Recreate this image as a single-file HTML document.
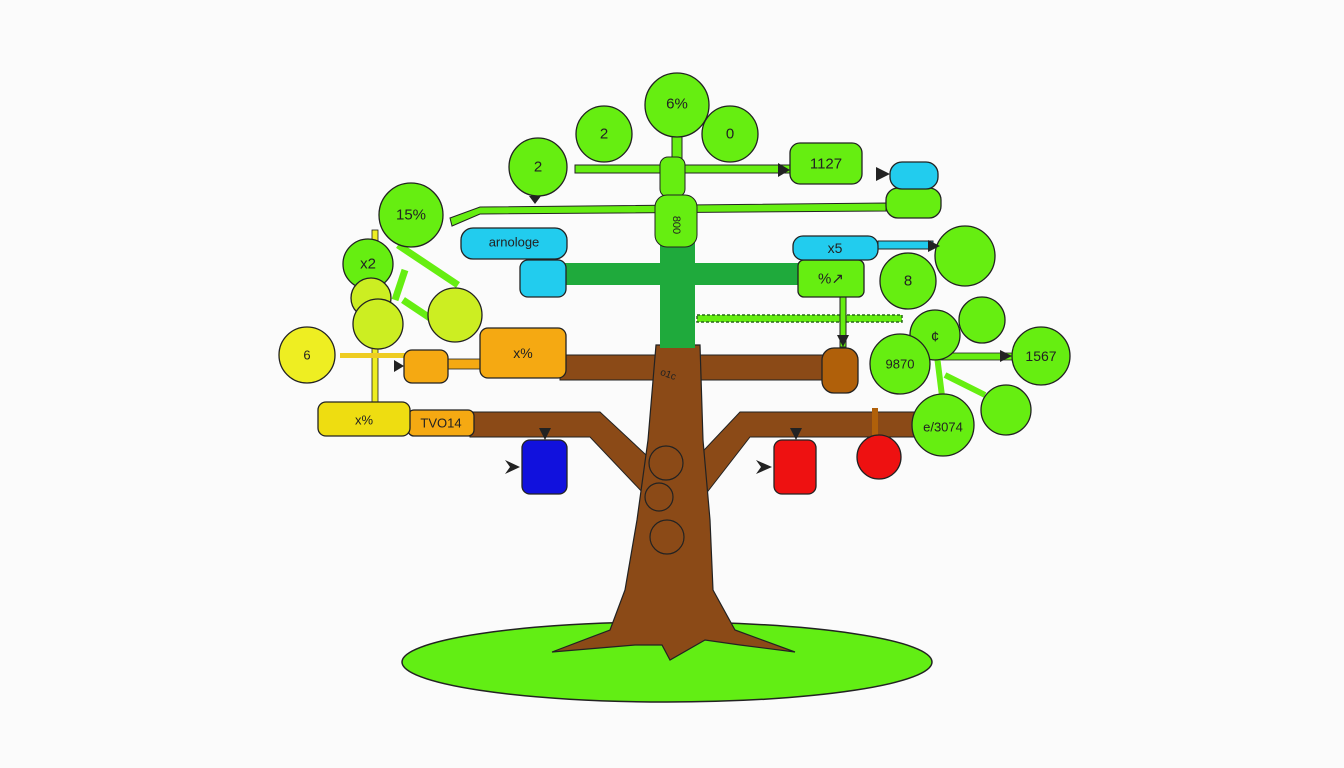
<!DOCTYPE html>
<html><head><meta charset="utf-8"><style>
html,body{margin:0;padding:0;background:#fbfbfb}
svg{display:block}
text{font-family:"Liberation Sans",sans-serif;fill:#222;text-anchor:middle;dominant-baseline:central}
</style></head><body>
<svg width="1344" height="768" viewBox="0 0 1344 768" xmlns="http://www.w3.org/2000/svg">
<rect width="1344" height="768" fill="#fbfbfb"/>
<!-- ground -->
<ellipse cx="667" cy="662" rx="265" ry="40" fill="#62ee14" stroke="#222" stroke-width="1.5"/>
<!-- lower branches -->
<path d="M470,412 L600,412 L660,468 L645,495 L590,437 L470,437 Z" fill="#8b4a17" stroke="#222" stroke-width="1"/>
<path d="M915,412 L740,412 L690,465 L705,495 L750,437 L915,437 Z" fill="#8b4a17" stroke="#222" stroke-width="1"/>
<!-- brown mid branch -->
<rect x="560" y="355" width="270" height="25" fill="#8b4a17" stroke="#222" stroke-width="1"/>
<!-- trunk -->
<path d="M656,345 L700,345 L703,440 L710,520 L713,590 L735,630 L795,652 L740,645 L705,640 L670,660 L662,645 L635,645 L552,652 L610,630 L625,590 L637,520 L648,440 Z" fill="#8b4a17" stroke="#222" stroke-width="1.2"/>
<circle cx="666" cy="463" r="17" fill="none" stroke="#222" stroke-width="1.2"/>
<circle cx="659" cy="497" r="14" fill="none" stroke="#222" stroke-width="1.2"/>
<circle cx="667" cy="537" r="17" fill="none" stroke="#222" stroke-width="1.2"/>
<text x="668" y="375" font-size="10" transform="rotate(20 668 375)">o1c</text>
<!-- green trunk & band -->
<rect x="660" y="230" width="35" height="118" fill="#1faa3c"/>
<rect x="560" y="263" width="245" height="22" fill="#1faa3c"/>
<!-- green connectors -->
<rect x="672" y="120" width="10" height="45" fill="#66ee11" stroke="#222" stroke-width="1"/>
<rect x="575" y="165" width="215" height="8" fill="#66ee11" stroke="#222" stroke-width="1"/>
<path d="M450,218 L480,207 L886,203 L886,211 L480,214 L452,226 Z" fill="#66ee11" stroke="#222" stroke-width="1"/>
<rect x="660" y="157" width="25" height="40" rx="8" fill="#66ee11" stroke="#222" stroke-width="1"/>
<rect x="655" y="195" width="42" height="52" rx="12" fill="#66ee11" stroke="#222" stroke-width="1"/>
<text x="676" y="225" font-size="11" transform="rotate(90 676 225)">800</text>
<rect x="697" y="315" width="205" height="7" fill="#66ee11" stroke="#2a6a1a" stroke-width="1.5" stroke-dasharray="3 2"/>
<rect x="840" y="295" width="6" height="52" fill="#66ee11" stroke="#222" stroke-width="1"/>
<rect x="878" y="241" width="55" height="8" fill="#22ccee" stroke="#222" stroke-width="1"/>
<path d="M398,245 L458,285 M405,270 L395,300 M403,300 L430,318" stroke="#66ee11" stroke-width="7" fill="none"/>
<rect x="372" y="230" width="6" height="180" fill="#eeee22" stroke="#222" stroke-width=".8"/>
<rect x="340" y="353" width="65" height="5" fill="#eecc22"/>
<rect x="448" y="359" width="35" height="10" fill="#f5a912" stroke="#222" stroke-width=".8"/>
<rect x="940" y="353" width="72" height="7" fill="#66ee11" stroke="#222" stroke-width=".8"/>
<path d="M935,340 L945,420 M945,375 L985,395" stroke="#66ee11" stroke-width="6" fill="none"/>
<rect x="872" y="408" width="6" height="30" fill="#b0600a"/>
<!-- nodes green circles -->
<g fill="#66ee11" stroke="#222" stroke-width="1.3">
<circle cx="677" cy="105" r="32"/><circle cx="604" cy="134" r="28"/><circle cx="730" cy="134" r="28"/>
<circle cx="538" cy="167" r="29"/><circle cx="411" cy="215" r="32"/><circle cx="368" cy="264" r="25"/>
<circle cx="965" cy="256" r="30"/><circle cx="908" cy="281" r="28"/><circle cx="982" cy="320" r="23"/>
<circle cx="935" cy="335" r="25"/><circle cx="900" cy="364" r="30"/><circle cx="1041" cy="356" r="29"/>
<circle cx="1006" cy="410" r="25"/><circle cx="943" cy="425" r="31"/>
<rect x="790" y="143" width="72" height="41" rx="10"/>
<rect x="886" y="188" width="55" height="30" rx="12"/>
<rect x="798" y="260" width="66" height="37" rx="6"/>
</g>
<g fill="#ccee22" stroke="#222" stroke-width="1.3">
<circle cx="371" cy="298" r="20"/><circle cx="378" cy="324" r="25"/><circle cx="455" cy="315" r="27"/>
</g>
<circle cx="307" cy="355" r="28" fill="#eeee22" stroke="#222" stroke-width="1.3"/>
<g fill="#22ccee" stroke="#222" stroke-width="1.3">
<rect x="890" y="162" width="48" height="27" rx="12"/>
<rect x="793" y="236" width="85" height="24" rx="10"/>
<rect x="461" y="228" width="106" height="31" rx="12"/>
<rect x="520" y="260" width="46" height="37" rx="8"/>
</g>
<g stroke="#222" stroke-width="1.3">
<rect x="480" y="328" width="86" height="50" rx="8" fill="#f5a912"/>
<rect x="404" y="350" width="44" height="33" rx="8" fill="#f5a912"/>
<rect x="408" y="410" width="66" height="26" rx="6" fill="#f5a912"/>
<rect x="318" y="402" width="92" height="34" rx="8" fill="#eedd11"/>
<rect x="822" y="348" width="36" height="45" rx="12" fill="#b0600a"/>
<rect x="522" y="440" width="45" height="54" rx="8" fill="#1111dd"/>
<rect x="774" y="440" width="42" height="54" rx="8" fill="#ee1111"/>
<circle cx="879" cy="457" r="22" fill="#ee1111"/>
</g>
<!-- arrowheads -->
<g fill="#222">
<path d="M539,428 L551,428 L545,440 Z"/><path d="M790,428 L802,428 L796,440 Z"/>
<path d="M505,460 L520,467 L505,474 L510,467 Z"/><path d="M756,460 L772,467 L756,474 L761,467 Z"/>
<path d="M876,167 L890,174 L876,181 Z"/><path d="M778,163 L790,170 L778,177 Z"/>
<path d="M928,240 L940,246 L928,252 Z"/><path d="M1000,350 L1012,356 L1000,362 Z"/>
<path d="M394,360 L404,366 L394,372 Z"/><path d="M529,196 L541,196 L535,204 Z"/>
<path d="M837,335 L849,335 L843,347 Z"/>
</g>
<!-- labels -->
<g font-size="15">
<text x="677" y="104">6%</text><text x="604" y="134">2</text><text x="730" y="134">0</text>
<text x="538" y="167">2</text><text x="411" y="215">15%</text><text x="368" y="264">x2</text>
<text x="826" y="164">1127</text><text x="835" y="248" font-size="14">x5</text>
<text x="831" y="279">%↗</text><text x="908" y="281">8</text><text x="935" y="337">¢</text>
<text x="900" y="364" font-size="13">9870</text><text x="1041" y="356" font-size="14">1567</text>
<text x="943" y="427" font-size="13">e/3074</text><text x="307" y="355" font-size="13">6</text>
<text x="514" y="228" dy="14" font-size="13">arnologe</text>
<text x="523" y="353" font-size="14">x%</text><text x="364" y="420" font-size="13">x%</text>
<text x="441" y="423" font-size="13">TVO14</text>
</g>
</svg>
</body></html>
